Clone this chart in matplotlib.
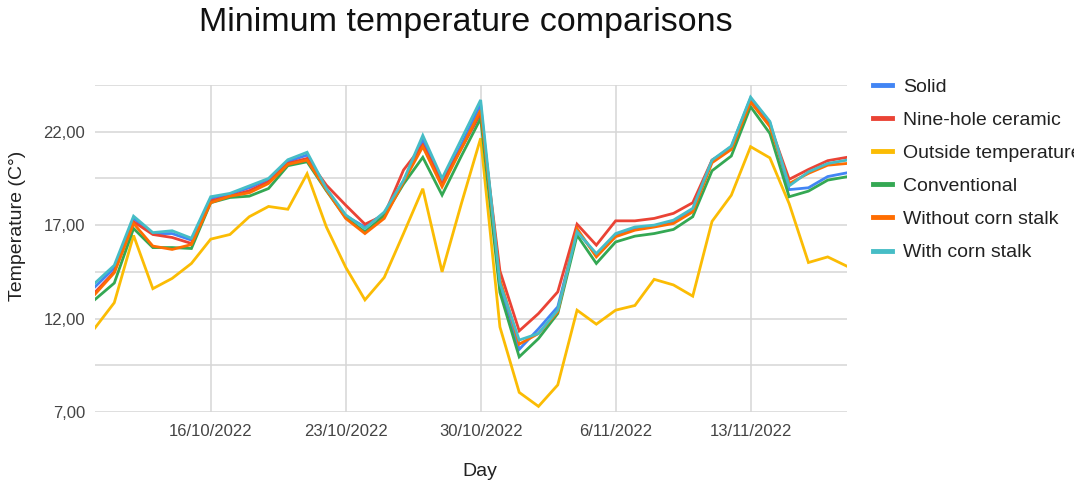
import matplotlib
matplotlib.use('Agg')
import matplotlib.pyplot as plt
import matplotlib.dates as mdates
from matplotlib.ticker import FixedLocator
from matplotlib.lines import Line2D
import pandas as pd

plt.rcParams['font.family'] = ['Liberation Sans', 'DejaVu Sans']

# one reading per day, 10/10/2022 .. 18/11/2022
days = pd.date_range('2022-10-10', '2022-11-18', freq='D')

solid = [13.7, 14.7, 17.36, 16.55, 16.55, 16.2, 18.43, 18.66, 19.0, 19.45,
         20.4, 20.75, 18.9, 17.5, 16.9, 17.63, 19.35, 21.55, 19.25, 21.3,
         23.45, 13.6, 10.35, 11.45, 12.63, 16.7, 15.4, 16.45, 16.82, 16.95,
         17.2, 17.8, 20.45, 21.2, 23.8, 22.5, 18.9, 19.0, 19.6, 19.8]
nine_hole = [13.4, 14.5, 17.18, 16.5, 16.34, 16.02, 18.3, 18.55, 18.84, 19.32,
             20.3, 20.57, 19.14, 18.07, 17.05, 17.54, 19.95, 21.29, 19.32, 21.1,
             22.98, 14.55, 11.34, 12.27, 13.43, 17.05, 15.93, 17.23, 17.23, 17.36,
             17.63, 18.2, 20.48, 21.1, 23.6, 22.36, 19.45, 19.98, 20.45, 20.63]
outside = [11.5, 12.85, 16.45, 13.6, 14.15, 14.95, 16.25, 16.5, 17.45, 18.0,
           17.85, 19.75, 16.9, 14.75, 13.0, 14.2, 16.55, 18.95, 14.5, 18.15,
           21.65, 11.55, 8.05, 7.3, 8.45, 12.45, 11.7, 12.45, 12.7, 14.1,
           13.8, 13.2, 17.2, 18.6, 21.2, 20.6, 18.15, 15.0, 15.3, 14.8]
conventional = [13.02, 13.9, 16.82, 15.8, 15.8, 15.75, 18.2, 18.48, 18.55, 18.96,
                20.18, 20.39, 18.84, 17.41, 16.64, 17.5, 19.2, 20.63, 18.61, 20.7,
                22.71, 13.4, 9.95, 10.93, 12.27, 16.46, 14.95, 16.1, 16.41, 16.55,
                16.77, 17.45, 19.91, 20.7, 23.34, 21.91, 18.52, 18.82, 19.41, 19.59]
without_stalk = [13.3, 14.45, 17.09, 15.88, 15.7, 15.96, 18.2, 18.55, 18.73, 19.23,
                 20.25, 20.48, 18.88, 17.36, 16.55, 17.36, 19.32, 21.2, 19.05, 21.1,
                 23.16, 14.1, 10.63, 11.2, 12.36, 16.82, 15.3, 16.38, 16.73, 16.9,
                 17.09, 17.71, 20.34, 21.05, 23.6, 22.27, 19.23, 19.77, 20.21, 20.3]
with_stalk = [13.9, 14.85, 17.48, 16.6, 16.7, 16.3, 18.52, 18.7, 19.1, 19.5,
              20.5, 20.9, 18.96, 17.55, 16.82, 17.7, 19.4, 21.8, 19.5, 21.6,
              23.7, 13.9, 10.85, 11.2, 12.45, 16.65, 15.48, 16.55, 16.9, 17.0,
              17.27, 17.9, 20.48, 21.23, 23.85, 22.55, 19.1, 19.85, 20.3, 20.48]

series = [('Solid', solid, '#4285F4'),
          ('Nine-hole ceramic', nine_hole, '#EA4335'),
          ('Outside temperature', outside, '#FBBC04'),
          ('Conventional', conventional, '#34A853'),
          ('Without corn stalk', without_stalk, '#FF6D01'),
          ('With corn stalk', with_stalk, '#46BDC6')]

tick_days = pd.to_datetime(['2022-10-16', '2022-10-23', '2022-10-30',
                            '2022-11-06', '2022-11-13'])
tick_labels = ['16/10/2022', '23/10/2022', '30/10/2022', '6/11/2022', '13/11/2022']
y_major = [7, 12, 17, 22]
y_labels = ['7,00', '12,00', '17,00', '22,00']
y_minor = [9.5, 14.5, 19.5, 24.5]

fig = plt.figure(figsize=(10.74, 4.84), dpi=100)
ax = fig.add_axes([95/1074, 1-412/484, 752/1074, 327/484])

for name, vals, col in series:
    ax.plot(days, vals, color=col, lw=2.0, label=name, solid_joinstyle='miter')

ax.set_xlim(days[0], days[-1])
ax.set_ylim(7, 24.5)
ax.set_xticks(tick_days)
ax.set_xticklabels(tick_labels)
ax.set_yticks(y_major)
ax.set_yticklabels(y_labels)
ax.yaxis.set_minor_locator(FixedLocator(y_minor))
ax.tick_params(which='both', length=0, labelsize=12, colors='#444444')
ax.tick_params(axis='y', pad=7)
ax.tick_params(axis='x', pad=9)
ax.grid(True, which='both', axis='y', color='#d6d6d6', lw=1.1)
ax.grid(True, which='major', axis='x', color='#d6d6d6', lw=1.1)
ax.set_axisbelow(True)
for s in ax.spines.values():
    s.set_visible(False)

fig.text(466/1074, 1-23/484, 'Minimum temperature comparisons', fontsize=24.5,
         ha='center', va='center', color='#111111')
fig.text(18/1074, 1-226/484, 'Temperature (C°)', rotation=90, fontsize=14,
         ha='center', va='center', color='#222222')
fig.text(480/1074, 1-472/484, 'Day', fontsize=14, ha='center', va='center',
         color='#222222')

handles = [Line2D([], [], color=c, lw=3.5) for _, _, c in series]
fig.legend(handles, [n for n, _, _ in series], loc='upper left',
           bbox_to_anchor=(873/1074, 1-78/484), frameon=False, fontsize=14,
           handlelength=1.0, handletextpad=0.55, labelspacing=0.80,
           borderpad=0, borderaxespad=0, labelcolor='#222222')

fig.savefig('out.png', dpi=100)
